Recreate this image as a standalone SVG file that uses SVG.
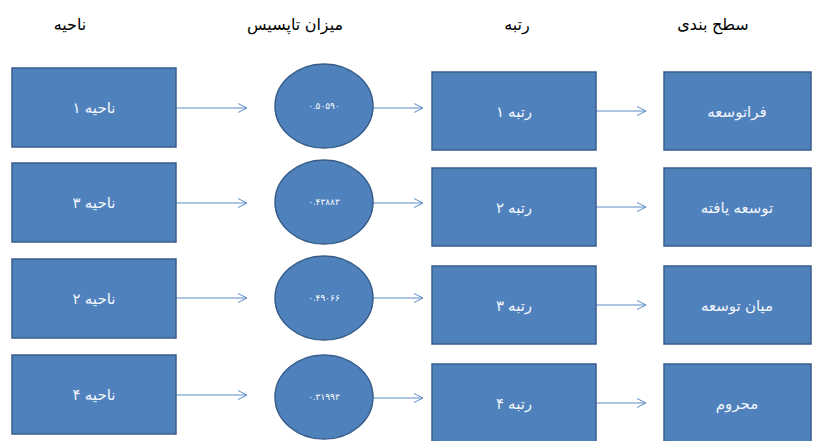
<svg xmlns="http://www.w3.org/2000/svg" width="820" height="441" viewBox="0 0 820 441">
<defs>
<marker id="ah" markerWidth="12" markerHeight="12" refX="10" refY="6" orient="auto" markerUnits="userSpaceOnUse">
<path d="M1,1.5 L10,6 L1,10.5" fill="none" stroke="#5b8cc8" stroke-width="1"/>
</marker>
<style>
.box{fill:#4f81bd;stroke:#385d8a;stroke-width:1.5}
.t{font-family:"Liberation Sans","DejaVu Sans",sans-serif;font-size:15px;fill:#f2f6fb;text-anchor:middle;dominant-baseline:central}
.n{font-family:"Liberation Sans","DejaVu Sans",sans-serif;font-size:9px;fill:#ffffff;text-anchor:middle;dominant-baseline:central}
.h{font-family:"Liberation Sans","DejaVu Sans",sans-serif;font-size:16px;fill:#000000;text-anchor:middle;dominant-baseline:central}
.c{stroke:#5b8cc8;stroke-width:1;fill:none;marker-end:url(#ah)}
</style>
</defs>
<rect width="820" height="441" fill="#ffffff"/>
<g id="headers">
<text class="h" x="70" y="24">ناحیه</text>
<text class="h" x="295" y="24">میزان تاپسیس</text>
<text class="h" x="517" y="24">رتبه</text>
<text class="h" x="713" y="24">سطح بندی</text>
</g>
<g id="connectors">
<line class="c" x1="176" y1="108" x2="247" y2="108"/>
<line class="c" x1="373" y1="108" x2="423" y2="108"/>
<line class="c" x1="596" y1="111" x2="646" y2="111"/>
<line class="c" x1="176" y1="203" x2="247" y2="203"/>
<line class="c" x1="373" y1="203" x2="423" y2="203"/>
<line class="c" x1="596" y1="207" x2="646" y2="207"/>
<line class="c" x1="176" y1="298" x2="247" y2="298"/>
<line class="c" x1="373" y1="298" x2="423" y2="298"/>
<line class="c" x1="596" y1="305" x2="646" y2="305"/>
<line class="c" x1="176" y1="395" x2="247" y2="395"/>
<line class="c" x1="373" y1="398" x2="423" y2="398"/>
<line class="c" x1="596" y1="403" x2="646" y2="403"/>
</g>
<g id="region1"><rect class="box" x="12" y="68" width="164" height="79"/><text class="t" x="94" y="107">ناحیه ۱</text></g>
<g id="region3"><rect class="box" x="12" y="163" width="164" height="79"/><text class="t" x="94" y="202">ناحیه ۳</text></g>
<g id="region2"><rect class="box" x="12" y="259" width="164" height="79"/><text class="t" x="94" y="298">ناحیه ۲</text></g>
<g id="region4"><rect class="box" x="12" y="355" width="164" height="79"/><text class="t" x="94" y="394">ناحیه ۴</text></g>
<g id="score1"><ellipse class="box" cx="324" cy="106" rx="49" ry="42"/><text class="n" x="324" y="106">۰.۵۰۵۹۰</text></g>
<g id="score2"><ellipse class="box" cx="324" cy="202" rx="49" ry="42"/><text class="n" x="324" y="202">۰.۴۳۸۸۳</text></g>
<g id="score3"><ellipse class="box" cx="324" cy="298" rx="49" ry="42"/><text class="n" x="324" y="298">۰.۴۹۰۶۶</text></g>
<g id="score4"><ellipse class="box" cx="324" cy="397" rx="49" ry="42"/><text class="n" x="324" y="397">۰.۳۱۹۹۳</text></g>
<g id="rank1"><rect class="box" x="432" y="72" width="164" height="78"/><text class="t" x="514" y="111">رتبه ۱</text></g>
<g id="rank2"><rect class="box" x="432" y="168" width="164" height="78"/><text class="t" x="514" y="207">رتبه ۲</text></g>
<g id="rank3"><rect class="box" x="432" y="266" width="164" height="78"/><text class="t" x="514" y="305">رتبه ۳</text></g>
<g id="rank4"><rect class="box" x="432" y="364" width="164" height="78"/><text class="t" x="514" y="403">رتبه ۴</text></g>
<g id="level1"><rect class="box" x="664" y="72" width="147" height="78"/><text class="t" x="737" y="111">فراتوسعه</text></g>
<g id="level2"><rect class="box" x="664" y="168" width="147" height="78"/><text class="t" x="737" y="207">توسعه یافته</text></g>
<g id="level3"><rect class="box" x="664" y="266" width="147" height="78"/><text class="t" x="737" y="305">میان توسعه</text></g>
<g id="level4"><rect class="box" x="664" y="364" width="147" height="78"/><text class="t" x="737" y="403">محروم</text></g>
</svg>
